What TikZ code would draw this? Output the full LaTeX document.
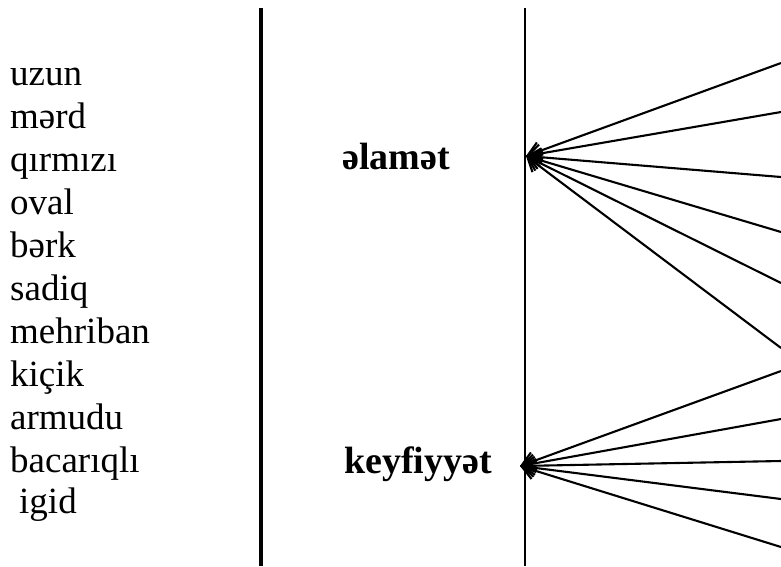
\documentclass[tikz,border=0pt]{standalone}
\usepackage{fontspec}
\setmainfont{Liberation Serif}
\usetikzlibrary{arrows.meta}
\tikzset{
  word/.style={anchor=base west, inner sep=0pt, font=\fontsize{37}{42}\selectfont},
  label/.style={anchor=base west, inner sep=0pt, font=\fontsize{38}{42}\selectfont\bfseries},
  conn/.style={line width=2.1pt, -{Straight Barb[length=13pt,width=18pt,line width=2.1pt]}},
}
\begin{document}
\begin{tikzpicture}[x=1pt,y=-1pt]
\useasboundingbox (0,0) rectangle (781,566);
% words
\node[word] (w1) at (10,85) {uzun};
\node[word] (w2) at (10,128) {mərd};
\node[word] (w3) at (10,171) {qırmızı};
\node[word] (w4) at (10,214) {oval};
\node[word] (w5) at (10,257) {bərk};
\node[word] (w6) at (10,300) {sadiq};
\node[word] (w7) at (10,343) {mehriban};
\node[word] (w8) at (10,386) {kiçik};
\node[word] (w9) at (10,429) {armudu};
\node[word] (w10) at (10,472) {bacarıqlı};
\node[word] (w11) at (19,513) {igid};
% separators
\coordinate (s1t) at (261,8);
\coordinate (s1b) at (261,566);
\coordinate (s2t) at (525,8);
\coordinate (s2b) at (525,566);
\draw[line width=4pt] (s1t) -- (s1b);
\draw[line width=2.2pt] (s2t) -- (s2b);
% labels
\node[label] (l1) at (342,169) {əlamət};
\node[label] (l2) at (344,473) {keyfiyyət};
% arrow targets
\coordinate (t1) at (526,156);
\coordinate (t2) at (520,466);
% right ends
\coordinate (a1) at (781,63);
\coordinate (a2) at (781,112);
\coordinate (a3) at (781,177);
\coordinate (a4) at (781,232);
\coordinate (a5) at (781,283);
\coordinate (a6) at (781,348);
\coordinate (b1) at (781,371);
\coordinate (b2) at (781,419);
\coordinate (b3) at (781,461);
\coordinate (b4) at (781,499);
\coordinate (b5) at (781,547);
\foreach \e in {a1,a2,a3,a4,a5,a6} \draw[conn] (\e) -- (t1);
\foreach \e in {b1,b2,b3,b4,b5} \draw[conn] (\e) -- (t2);
\end{tikzpicture}
\end{document}
